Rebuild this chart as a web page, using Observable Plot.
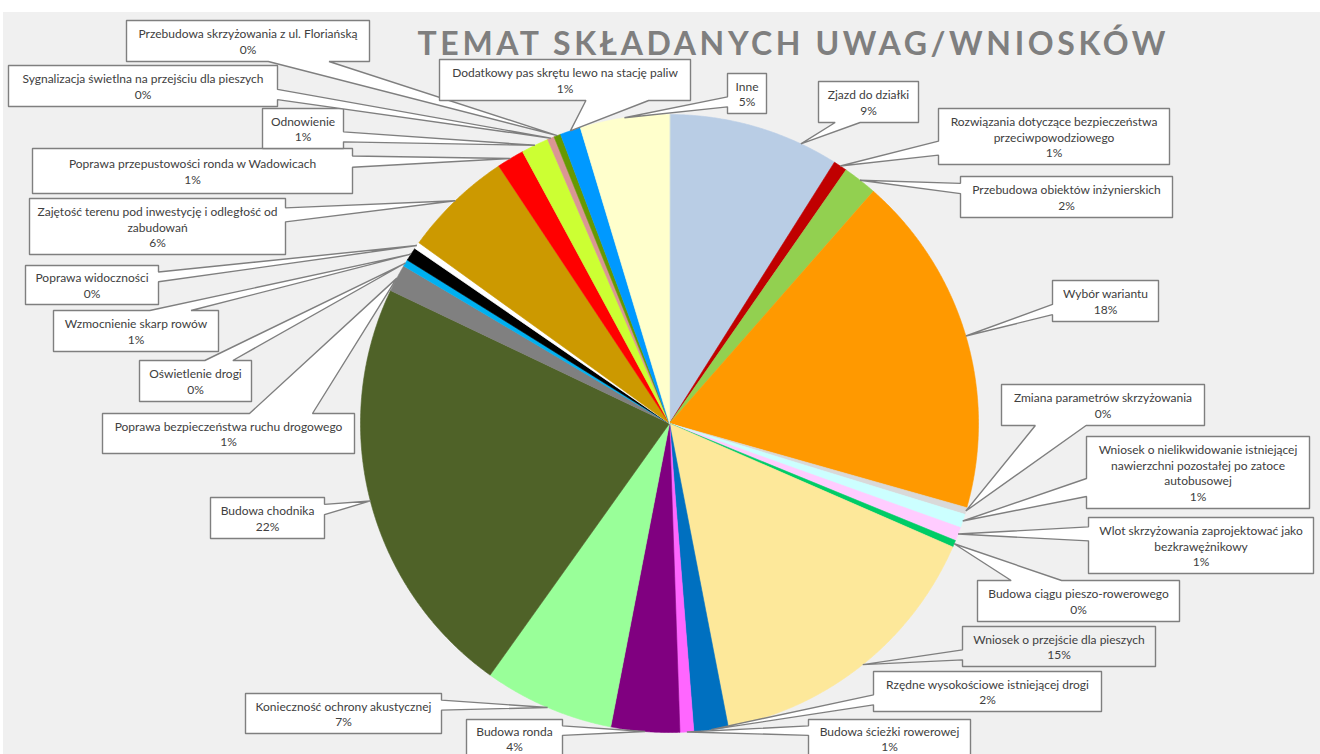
<!DOCTYPE html>
<html>
<head>
<meta charset="utf-8">
<script src="https://cdn.jsdelivr.net/npm/d3@7"></script>
<script src="https://cdn.jsdelivr.net/npm/@observablehq/plot@0.6"></script>
<style>
html, body { margin: 0; padding: 0; background: #ffffff; }
#wrap { position: relative; width: 1320px; height: 754px; overflow: hidden; }
#bg { position: absolute; left: 3px; top: 12px; right: 0; bottom: 0; background: #f0f0f0; }
#chart { position: absolute; left: 0; top: 0; }
</style>
</head>
<body>
<div id="wrap"><div id="bg"></div><div id="chart"></div></div>
<script>
// ---------------- DATA ----------------
const title = "TEMAT SKŁADANYCH UWAG/WNIOSKÓW";

const categories = [
  "Zjazd do działki",
  "Rozwiązania dotyczące bezpieczeństwa przeciwpowodziowego",
  "Przebudowa obiektów inżynierskich",
  "Wybór wariantu",
  "Zmiana parametrów skrzyżowania",
  "Wniosek o nielikwidowanie istniejącej nawierzchni pozostałej po zatoce autobusowej",
  "Wlot skrzyżowania zaprojektować jako bezkrawężnikowy",
  "Budowa ciągu pieszo-rowerowego",
  "Wniosek o przejście dla pieszych",
  "Rzędne wysokościowe istniejącej drogi",
  "Budowa ścieżki rowerowej",
  "Budowa ronda",
  "Konieczność ochrony akustycznej",
  "Budowa chodnika",
  "Poprawa bezpieczeństwa ruchu drogowego",
  "Oświetlenie drogi",
  "Wzmocnienie skarp rowów",
  "Poprawa widoczności",
  "Zajętość terenu pod inwestycję i odległość od zabudowań",
  "Poprawa przepustowości ronda w Wadowicach",
  "Odnowienie",
  "Sygnalizacja świetlna na przejściu dla pieszych",
  "Przebudowa skrzyżowania z ul. Floriańską",
  "Dodatkowy pas skrętu lewo na stację paliw",
  "Inne"
];

// estimated number of remarks per topic
const counts = [25, 2, 5, 50, 1, 2, 2, 1, 43, 5, 2, 10, 19, 62, 4, 1, 2, 1, 16, 4, 4, 1, 1, 3, 13];

const sliceColors = [
  "#b9cde5", "#c00000", "#92d050", "#ff9900", "#d9d9d9",
  "#ccffff", "#ffccff", "#00cc66", "#fde89a", "#0070c0",
  "#ff66ff", "#800080", "#99ff99", "#4f6228", "#808080",
  "#00b0f0", "#000000", "#ffffff", "#cc9900", "#ff0000",
  "#ccff33", "#da9694", "#669900", "#0099ff", "#ffffcc"
];

// ---------------- LAYOUT (label callout boxes: left, top, width, height) ----------------
const labelBoxes = [
  [818, 81, 100, 41],
  [938, 108, 231, 56],
  [960, 176, 212, 41],
  [1052, 280, 106, 41],
  [1001, 384, 203, 41],
  [1086, 436, 223, 72],
  [1088, 517, 225, 56],
  [977, 580, 202, 41],
  [962, 626, 193, 40],
  [873, 671, 228, 40],
  [808, 719, 162, 38],
  [466, 719, 96, 38],
  [245, 693, 196, 40],
  [210, 497, 114, 41],
  [102, 413, 252, 40],
  [139, 360, 112, 41],
  [53, 310, 165, 41],
  [25, 265, 133, 39],
  [29, 198, 256, 56],
  [32, 148, 320, 45],
  [262, 108, 81, 40],
  [8, 65, 269, 41],
  [126, 20, 243, 41],
  [439, 59, 251, 41],
  [727, 73, 39, 40]
];
// where along each slice's arc the callout points (0 = start, 1 = end)
const tipPosition = categories.map((_, i) => (i === 0 ? 0.78 : 0.5));
const shadedBox = new Set([8]);

const W = 1320, H = 754, CX = 669, CY = 423, R = 309;
const PAD = 5, LINE_H = 15.6;

// ---------------- helpers ----------------
const ctx = document.createElement("canvas").getContext("2d");
ctx.font = "100px Lato";
const FS = Math.round(100 * 241 / ctx.measureText("Sygnalizacja świetlna na przejściu dla pieszych").width * 10) / 10;

function wrap(text, maxW) {
  ctx.font = `${FS}px Lato`;
  const words = text.split(" ");
  const lines = [];
  let cur = "";
  for (const w of words) {
    const t = cur ? cur + " " + w : w;
    if (!cur || ctx.measureText(t).width <= maxW) cur = t;
    else { lines.push(cur); cur = w; }
  }
  if (cur) lines.push(cur);
  return lines;
}

// Excel-style wedge rectangle callout
function callout(l, t, w, h, px, py) {
  const r = l + w, b = t + h;
  const cx = l + w / 2, cy = t + h / 2;
  const dx = px - cx, dy = py - cy;
  if (px >= l && px <= r && py >= t && py <= b) return [[l, t], [r, t], [r, b], [l, b]];
  const dq = dx * h / w;
  if (Math.abs(dq) > Math.abs(dy)) {
    const y1 = dy > 0 ? t + h * 7 / 12 : t + h * 2 / 12;
    const y2 = dy > 0 ? t + h * 10 / 12 : t + h * 5 / 12;
    if (dx < 0) return [[l, t], [r, t], [r, b], [l, b], [l, y2], [px, py], [l, y1]];
    return [[l, t], [r, t], [r, y1], [px, py], [r, y2], [r, b], [l, b]];
  } else {
    const x1 = dx > 0 ? l + w * 7 / 12 : l + w * 2 / 12;
    const x2 = dx > 0 ? l + w * 10 / 12 : l + w * 5 / 12;
    if (dy < 0) return [[l, t], [x1, t], [px, py], [x2, t], [r, t], [r, b], [l, b]];
    return [[l, t], [r, t], [r, b], [x2, b], [px, py], [x1, b], [l, b]];
  }
}

// ---------------- build mark data ----------------
const total = d3.sum(counts);
const arcs = d3.pie().sort(null).value(d => d)(counts);
const pt = (a, r) => [CX + r * Math.sin(a), CY - r * Math.cos(a)];

const slicePts = [];
arcs.forEach((a, i) => {
  slicePts.push({id: i, x: CX, y: CY, c: sliceColors[i]});
  const n = Math.max(2, Math.ceil((a.endAngle - a.startAngle) / (Math.PI / 720)));
  for (let k = 0; k <= n; k++) {
    const ang = a.startAngle + (a.endAngle - a.startAngle) * k / n;
    const [x, y] = pt(ang, R);
    slicePts.push({id: i, x, y, c: sliceColors[i]});
  }
});

const calloutPts = [];
const labelTexts = [];
arcs.forEach((a, i) => {
  const [l, t, w, h] = labelBoxes[i];
  const ang = a.startAngle + (a.endAngle - a.startAngle) * tipPosition[i];
  const [px, py] = pt(ang, R);
  const fill = shadedBox.has(i) ? "#f0f0f0" : "#ffffff";
  callout(l, t, w, h, px, py).forEach(([x, y]) => calloutPts.push({id: i, x, y, fill}));
  const pct = Math.round(counts[i] / total * 100) + "%";
  const lines = wrap(categories[i], w - 2 * PAD).concat(pct);
  labelTexts.push({x: l + w / 2, y: t + h / 2, text: lines.join("\n")});
});

// ---------------- plot ----------------
const chart = Plot.plot({
  width: W,
  height: H,
  margin: 0,
  x: {domain: [0, W], range: [0, W], axis: null},
  y: {domain: [0, H], range: [0, H], axis: null},
  color: {type: "identity"},
  style: {background: "transparent", fontFamily: "Lato, 'Open Sans', sans-serif", overflow: "hidden"},
  marks: [
    Plot.line(slicePts, {x: "x", y: "y", z: "id", fill: "c", stroke: "c", strokeWidth: 0.6, curve: "linear-closed"}),
    Plot.line(calloutPts, {x: "x", y: "y", z: "id", fill: "fill", stroke: "#7f7f7f", strokeWidth: 1.4, curve: "linear-closed", strokeLinejoin: "miter"}),
    Plot.text(labelTexts, {x: "x", y: "y", text: "text", fontSize: FS, lineHeight: LINE_H / FS, fill: "#404040", textAnchor: "middle", lineAnchor: "middle"}),
    Plot.text([title], {frameAnchor: "top", dx: 131, dy: 32, text: d => d, fontSize: 32, fontWeight: "bold", fill: "#7f7f7f", lineAnchor: "top", textAnchor: "middle"})
  ]
});

document.getElementById("chart").appendChild(chart);
for (const t of chart.querySelectorAll("text")) {
  if (t.textContent === title) {
    t.setAttribute("textLength", 748);
    t.setAttribute("lengthAdjust", "spacing");
  }
}
</script>
</body>
</html>
